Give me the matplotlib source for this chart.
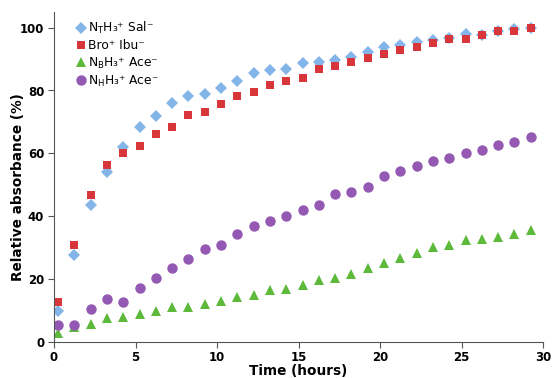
import numpy as np
import matplotlib.pyplot as plt

# time points (hours)
time = np.arange(30) + 0.25

nt_sal = [9.7, 27.5, 43.4, 54.1, 61.9, 68.3, 72.0, 75.9, 78.1, 79.0,
          80.8, 83.1, 85.7, 86.5, 87.0, 88.8, 89.2, 89.7, 90.8, 92.4,
          93.7, 94.6, 95.6, 96.1, 96.6, 97.9, 97.7, 98.9, 99.6, 100.0]
bro_ibu = [12.5, 30.7, 46.6, 56.3, 60.0, 62.3, 66.0, 68.5, 72.1, 73.2,
           75.7, 78.1, 79.4, 81.7, 83.0, 84.1, 86.7, 87.9, 89.1, 90.4,
           91.6, 92.8, 94.0, 95.2, 96.4, 96.4, 97.7, 98.9, 98.9, 100.0]
nb_ace = [2.7, 4.6, 5.6, 7.4, 7.9, 8.9, 9.8, 10.9, 10.9, 11.9,
          13.1, 14.3, 15.0, 16.5, 16.7, 18.1, 19.8, 20.3, 21.6, 23.5,
          25.0, 26.5, 28.1, 30.1, 30.9, 32.3, 32.7, 33.5, 34.2, 35.5]
nh_ace = [5.3, 5.3, 10.3, 13.6, 12.8, 17.0, 20.3, 23.6, 26.2, 29.4,
          30.9, 34.4, 36.8, 38.4, 40.1, 41.8, 43.4, 46.9, 47.8, 49.3,
          52.7, 54.3, 56.0, 57.6, 58.5, 60.1, 61.0, 62.7, 63.5, 65.1]

labels = ['N$_\\mathregular{T}$H₃⁺ Sal⁻',
          'Bro⁺ Ibu⁻',
          'N$_\\mathregular{B}$H₃⁺ Ace⁻',
          'N$_\\mathregular{H}$H₃⁺ Ace⁻']

plt.rcParams['mathtext.fontset'] = 'dejavusans'

fig = plt.figure(figsize=(5.52, 3.78), dpi=100)
ax = fig.add_axes([54/552, 1 - 341.7/378, 489/552, (341.7 - 12)/378])

ax.plot(time, nt_sal, 'D', color='#84b5e8', ms=6, mew=0, label=labels[0])
ax.plot(time, bro_ibu, 's', color='#d9363b', ms=5.3, mew=0, label=labels[1])
ax.plot(time, nb_ace, '^', color='#5cb93a', ms=7, mew=0, label=labels[2])
ax.plot(time, nh_ace, 'o', color='#9459b3', ms=7.5, mew=0, label=labels[3])

ax.set_xlim(0, 30)
ax.set_ylim(0, 105)
ax.set_xticks([0, 5, 10, 15, 20, 25, 30])
ax.set_yticks([0, 20, 40, 60, 80, 100])

for s in ['top', 'right']:
    ax.spines[s].set_visible(False)
for s in ['left', 'bottom']:
    ax.spines[s].set_color('#555555')
ax.tick_params(direction='out', length=4, color='#555555', labelsize=8.5, pad=3)
for t in ax.get_xticklabels() + ax.get_yticklabels():
    t.set_fontweight('bold')

ax.set_xlabel('Time (hours)', fontweight='bold', fontsize=9.8)
ax.set_ylabel('Relative absorbance (%)', fontweight='bold', fontsize=9.8)
ax.xaxis.set_label_coords(0.5, -0.069)
ax.yaxis.set_label_coords(-0.06, 0.47)

ax.legend(loc='upper left', bbox_to_anchor=(0.043, 0.975), frameon=False,
          fontsize=8.8, handletextpad=0.1, labelspacing=0.25,
          handlelength=1.0, borderaxespad=0, borderpad=0)

fig.savefig('out.png', dpi=100)
